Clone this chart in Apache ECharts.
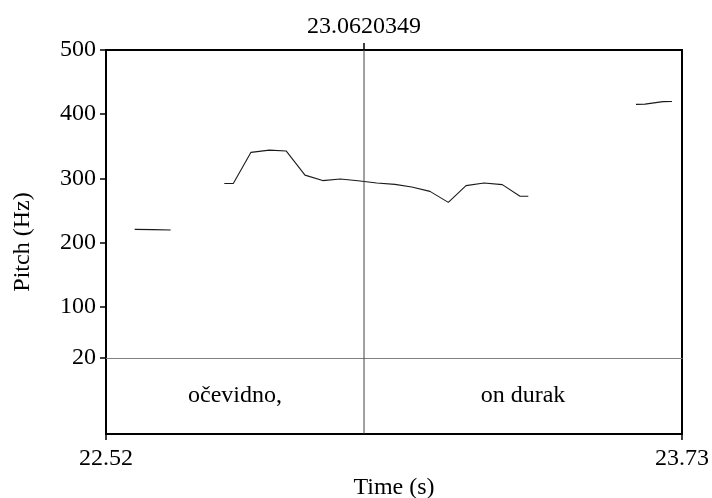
<!DOCTYPE html>
<html><head><meta charset="utf-8">
<script src="https://cdn.jsdelivr.net/npm/echarts@6/dist/echarts.min.js"></script>
<style>html,body{margin:0;padding:0;background:#fff}#c{width:712px;height:498px}</style>
</head><body><div id="c"></div>
<script>
const timeMin = 22.52, timeMax = 23.73;
const cursorTime = 23.0620349;
const pitchMin = 20, pitchMax = 500;
const pitchTicks = [20, 100, 200, 300, 400, 500];
const timeTicks = [22.52, 23.73];
const pitchTime = [22.5803, 22.6181, 22.6559, null,
  22.7685, 22.7874, 22.8246, 22.8631, 22.8988, 22.9380, 22.9752, 23.0122, 23.0494,
  23.0887, 23.1271, 23.1622, 23.2006, 23.2391, 23.2763, 23.3141, 23.3525, 23.3897, 23.4071, null,
  23.6334, 23.6523, 23.6901, 23.7090];
const pitchHz = [220.5, 220, 219.5, null,
  292, 292, 340.5, 344, 342.5, 305, 296.5, 299, 296.2,
  292.7, 290.6, 286.4, 279.7, 262.5, 288.6, 292.7, 290.2, 272, 272, null,
  415.2, 415.6, 419.5, 419.8];
const tierLabels = ['očevidno,', 'on durak'];
const tierStart = [22.52, 23.0620349];
const tierEnd = [23.0620349, 23.73];

const FONT = 'Liberation Serif';
const FS = 24;
const txt = {fontFamily: FONT, fontSize: FS, color: '#000'};

const pitchData = pitchTime.map((t, i) => t === null ? '-' : [t, pitchHz[i]]);
const tierData = tierLabels.map((s, i) => [(tierStart[i] + tierEnd[i]) / 2, 0.5, s]);

const chart = echarts.init(document.getElementById('c'), null, {renderer: 'canvas'});
chart.setOption({
  animation: false,
  backgroundColor: '#fff',
  grid: [
    {left: 106, top: 50, width: 576, height: 308, show: false, containLabel: false, outerBoundsMode: 'none'},
    {left: 106, top: 358, width: 576, height: 76, show: false, containLabel: false, outerBoundsMode: 'none'},
    {left: 106, top: 50, width: 576, height: 384, show: true, borderColor: '#000', borderWidth: 2,
      backgroundColor: 'transparent', containLabel: false, outerBoundsMode: 'none'}
  ],
  xAxis: [
    {gridIndex: 0, type: 'value', min: timeMin, max: timeMax, position: 'bottom',
      axisLine: {show: true, lineStyle: {color: '#808080', width: 1}},
      axisTick: {show: false}, axisLabel: {show: false}, splitLine: {show: false}},
    {gridIndex: 1, type: 'value', min: timeMin, max: timeMax, show: false},
    {gridIndex: 2, type: 'value', min: timeMin, max: timeMax, position: 'bottom',
      axisLine: {show: false},
      axisTick: {show: true, inside: false, length: 6, customValues: timeTicks, lineStyle: {color: '#000', width: 1.5}},
      axisLabel: {show: true, customValues: timeTicks, formatter: v => v.toFixed(2), margin: 13, ...txt},
      splitLine: {show: false},
      name: 'Time (s)', nameLocation: 'middle', nameGap: 40, nameTextStyle: {...txt}},
    {gridIndex: 2, type: 'value', min: timeMin, max: timeMax, position: 'top',
      axisLine: {show: false},
      axisTick: {show: true, inside: false, length: 7, customValues: [cursorTime], lineStyle: {color: '#000', width: 1.5}},
      axisLabel: {show: true, customValues: [cursorTime], formatter: () => String(cursorTime), margin: 11, ...txt},
      splitLine: {show: false}}
  ],
  yAxis: [
    {gridIndex: 0, type: 'value', min: pitchMin, max: pitchMax,
      axisLine: {show: false},
      axisTick: {show: true, inside: false, length: 6, customValues: pitchTicks, lineStyle: {color: '#000', width: 1.5}},
      axisLabel: {show: true, customValues: pitchTicks, margin: 10, ...txt},
      splitLine: {show: false}},
    {gridIndex: 1, type: 'value', min: 0, max: 1, show: false},
    {gridIndex: 2, type: 'value', min: 0, max: 1,
      axisLine: {show: false}, axisTick: {show: false}, axisLabel: {show: false}, splitLine: {show: false},
      name: 'Pitch (Hz)', nameLocation: 'middle', nameGap: 71, nameRotate: 90, nameTextStyle: {...txt}}
  ],
  series: [
    {type: 'line', xAxisIndex: 0, yAxisIndex: 0, data: pitchData, showSymbol: false, connectNulls: false,
      lineStyle: {color: '#1a1a1a', width: 1.1}, silent: true},
    {type: 'line', xAxisIndex: 2, yAxisIndex: 2, data: [[cursorTime, 0], [cursorTime, 1]], showSymbol: false,
      lineStyle: {color: '#444', width: 1}, silent: true},
    {type: 'scatter', xAxisIndex: 1, yAxisIndex: 1, data: tierData, symbolSize: 0, silent: true,
      itemStyle: {opacity: 1},
      label: {show: true, position: 'inside', formatter: p => p.data[2], opacity: 1, textBorderWidth: 0, ...txt}}
  ]
});
</script></body></html>
